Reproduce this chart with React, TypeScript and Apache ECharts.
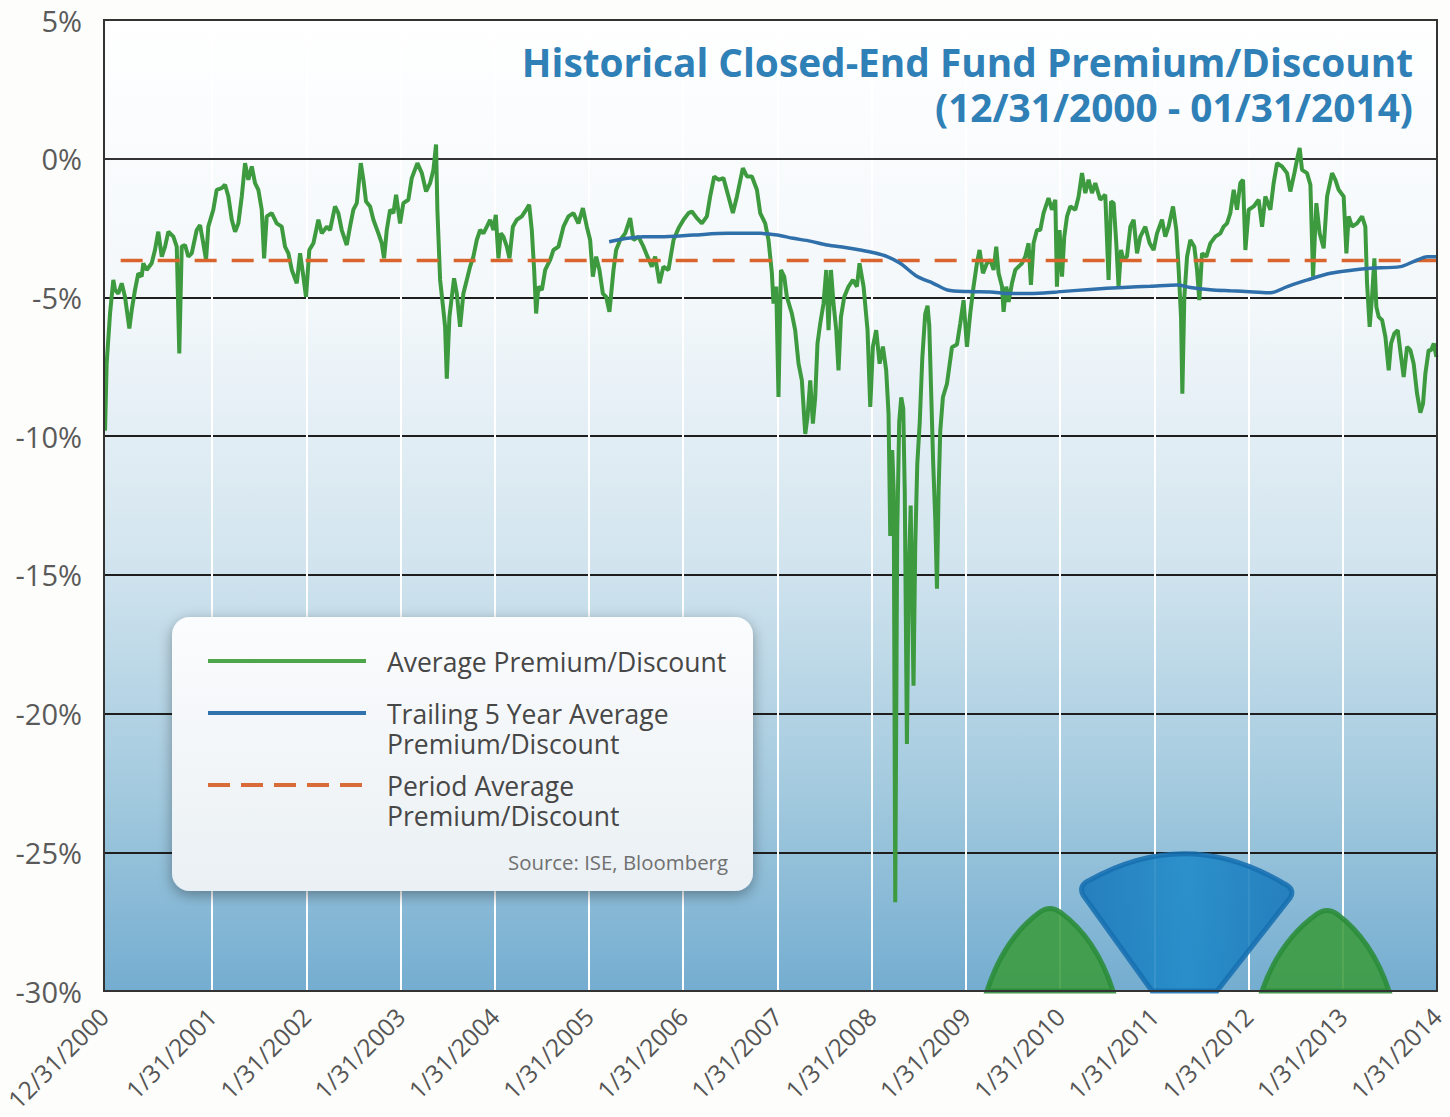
import React, { useEffect, useRef } from "react";
import * as echarts from "echarts";

// x unit: years from the start of the chart's date axis (first gap is wider, as in the source)
const X_TICKS = [0, 1.1465, 2.1465, 3.1465, 4.1465, 5.1465, 6.1465, 7.1465, 8.1465, 9.1465, 10.1465, 11.1465, 12.1465, 13.1465, 14.1465];
const X_LABELS = [
  "12/31/2000", "1/31/2001", "1/31/2002", "1/31/2003", "1/31/2004", "1/31/2005", "1/31/2006",
  "1/31/2007", "1/31/2008", "1/31/2009", "1/31/2010", "1/31/2011", "1/31/2012", "1/31/2013", "1/31/2014",
];
const Y_MIN = -30;
const Y_MAX = 5;
const Y_STEP = 5;

const AVG_PREMIUM_DISCOUNT: [number, number][] = [
  [0.011, -9.8], [0.028, -7.39], [0.064, -5.58], [0.099, -4.37], [0.117, -4.73], [0.152, -4.86], [0.188, -4.49], [0.223, -4.98],
  [0.269, -6.12], [0.294, -5.46], [0.329, -4.73], [0.364, -4.13], [0.4, -4.25], [0.417, -3.77], [0.453, -4.01], [0.506, -3.77],
  [0.541, -3.29], [0.576, -2.63], [0.613, -3.53], [0.648, -3.17], [0.683, -2.63], [0.736, -2.81], [0.772, -3.17], [0.799, -7.02],
  [0.825, -3.17], [0.86, -3.11], [0.895, -3.53], [0.931, -3.41], [0.984, -2.57], [1.019, -2.39], [1.054, -3.05], [1.083, -3.65],
  [1.107, -2.45], [1.16, -1.84], [1.196, -1.12], [1.249, -1.06], [1.285, -0.94], [1.32, -1.36], [1.356, -2.2], [1.391, -2.63],
  [1.426, -2.33], [1.462, -1.36], [1.497, -0.16], [1.532, -0.76], [1.568, -0.28], [1.603, -0.88], [1.638, -1.12], [1.674, -1.84],
  [1.699, -3.59], [1.727, -2.08], [1.78, -1.96], [1.833, -2.33], [1.886, -2.45], [1.921, -3.17], [1.957, -3.41], [1.993, -4.01],
  [2.046, -4.49], [2.081, -3.41], [2.116, -4.25], [2.144, -4.98], [2.179, -3.29], [2.222, -3.05], [2.275, -2.2], [2.311, -2.69],
  [2.364, -2.45], [2.399, -2.57], [2.452, -1.72], [2.487, -1.96], [2.523, -2.57], [2.576, -3.11], [2.611, -2.45], [2.646, -1.84],
  [2.683, -1.6], [2.725, -0.16], [2.753, -0.76], [2.781, -1.54], [2.824, -1.72], [2.859, -2.2], [2.912, -2.69], [2.948, -3.05],
  [2.972, -3.59], [3.001, -2.57], [3.036, -1.84], [3.071, -1.96], [3.1, -1.3], [3.142, -2.33], [3.177, -1.6], [3.23, -1.48],
  [3.266, -0.7], [3.326, -0.16], [3.373, -0.52], [3.418, -1.18], [3.461, -0.88], [3.496, -0.4], [3.524, 0.51], [3.538, -1.84],
  [3.567, -4.37], [3.602, -5.46], [3.62, -6.06], [3.638, -7.93], [3.666, -5.7], [3.691, -4.98], [3.715, -4.31], [3.744, -4.86],
  [3.779, -6.06], [3.814, -4.86], [3.85, -4.37], [3.885, -3.89], [3.92, -3.53], [3.956, -2.93], [3.992, -2.57], [4.027, -2.69],
  [4.063, -2.45], [4.098, -2.2], [4.133, -2.57], [4.158, -2.02], [4.186, -3.59], [4.211, -2.69], [4.239, -2.81], [4.275, -3.17],
  [4.303, -3.59], [4.339, -2.45], [4.381, -2.2], [4.434, -2.08], [4.469, -1.9], [4.512, -1.66], [4.54, -2.57], [4.565, -4.01],
  [4.586, -5.58], [4.61, -4.61], [4.647, -4.73], [4.682, -4.01], [4.735, -3.65], [4.77, -3.29], [4.823, -3.17], [4.876, -2.45],
  [4.929, -2.08], [4.982, -1.96], [5.035, -2.33], [5.082, -1.78], [5.124, -2.45], [5.159, -2.93], [5.188, -4.25], [5.223, -3.53],
  [5.258, -4.01], [5.294, -4.86], [5.329, -4.98], [5.364, -5.52], [5.407, -4.01], [5.435, -3.29], [5.478, -2.93], [5.531, -2.69],
  [5.584, -2.14], [5.619, -2.93], [5.672, -2.81], [5.725, -3.17], [5.768, -3.53], [5.814, -3.89], [5.849, -3.53], [5.895, -4.49],
  [5.937, -3.89], [5.99, -4.01], [6.044, -2.93], [6.097, -2.51], [6.15, -2.2], [6.203, -1.96], [6.239, -1.9], [6.292, -2.14],
  [6.345, -2.33], [6.398, -2.08], [6.433, -1.36], [6.476, -0.64], [6.521, -0.76], [6.574, -0.7], [6.627, -1.36], [6.674, -1.96],
  [6.717, -1.36], [6.78, -0.34], [6.823, -0.64], [6.876, -0.64], [6.929, -1.12], [6.964, -1.96], [7.017, -2.33], [7.052, -2.93],
  [7.088, -4.13], [7.105, -5.22], [7.134, -4.61], [7.158, -8.59], [7.184, -4.01], [7.219, -4.25], [7.247, -4.98], [7.3, -5.58],
  [7.335, -6.18], [7.371, -7.39], [7.406, -7.99], [7.442, -9.92], [7.466, -9.31], [7.495, -7.99], [7.523, -9.55], [7.548, -8.59],
  [7.572, -6.66], [7.601, -5.94], [7.636, -5.22], [7.665, -4.01], [7.689, -6.18], [7.715, -4.01], [7.742, -5.22], [7.771, -6.18],
  [7.795, -7.63], [7.821, -5.7], [7.856, -4.98], [7.901, -4.61], [7.948, -4.37], [7.99, -4.61], [8.018, -3.77], [8.061, -4.61],
  [8.103, -6.18], [8.132, -8.95], [8.16, -6.77], [8.195, -6.18], [8.231, -7.39], [8.266, -6.77], [8.301, -7.63], [8.326, -9.19],
  [8.344, -13.6], [8.365, -10.5], [8.381, -12.0], [8.397, -26.8], [8.418, -13.5], [8.439, -9.5], [8.461, -8.6], [8.482, -9.0],
  [8.498, -12.0], [8.521, -21.1], [8.54, -15.0], [8.561, -12.5], [8.591, -19.0], [8.609, -14.0], [8.631, -11.0], [8.657, -9.5],
  [8.684, -7.2], [8.715, -5.6], [8.74, -5.3], [8.758, -6.0], [8.779, -8.5], [8.8, -11.0], [8.822, -13.0], [8.84, -15.5],
  [8.857, -12.0], [8.875, -9.8], [8.903, -8.6], [8.946, -8.11], [8.999, -6.8], [9.052, -6.7], [9.087, -5.94], [9.122, -5.1],
  [9.158, -6.78], [9.193, -5.58], [9.228, -4.61], [9.264, -3.77], [9.292, -3.29], [9.328, -4.13], [9.37, -3.77], [9.406, -3.65],
  [9.441, -4.01], [9.469, -3.17], [9.494, -4.13], [9.53, -4.61], [9.547, -5.52], [9.575, -4.61], [9.6, -5.16], [9.636, -4.49],
  [9.671, -4.01], [9.706, -3.89], [9.742, -3.77], [9.777, -3.53], [9.812, -3.05], [9.837, -4.55], [9.865, -3.05], [9.901, -2.57],
  [9.936, -2.57], [9.971, -1.96], [10.024, -1.42], [10.06, -1.84], [10.096, -1.48], [10.113, -4.61], [10.141, -2.57], [10.167, -4.25],
  [10.191, -2.81], [10.22, -2.08], [10.255, -1.72], [10.308, -1.84], [10.343, -1.36], [10.379, -0.52], [10.414, -1.24], [10.449, -0.76],
  [10.485, -1.24], [10.52, -0.88], [10.573, -1.48], [10.626, -1.3], [10.661, -4.37], [10.687, -1.54], [10.715, -1.6], [10.743, -3.05],
  [10.767, -4.61], [10.793, -3.29], [10.82, -3.65], [10.856, -3.53], [10.892, -2.45], [10.927, -2.2], [10.963, -3.41], [10.998, -2.81],
  [11.051, -2.45], [11.097, -3.05], [11.139, -3.29], [11.175, -2.69], [11.228, -2.2], [11.263, -2.81], [11.298, -2.45], [11.345, -1.72],
  [11.38, -2.57], [11.405, -4.01], [11.43, -5.7], [11.444, -8.47], [11.465, -4.98], [11.494, -3.53], [11.529, -2.93], [11.571, -3.17],
  [11.6, -4.01], [11.624, -5.1], [11.653, -3.41], [11.699, -3.53], [11.741, -3.05], [11.794, -2.81], [11.847, -2.69], [11.882, -2.45],
  [11.918, -2.33], [11.953, -1.96], [11.989, -1.12], [12.024, -1.84], [12.059, -0.88], [12.088, -0.76], [12.113, -3.29], [12.148, -1.84],
  [12.201, -1.72], [12.254, -1.48], [12.29, -2.45], [12.325, -1.36], [12.378, -1.84], [12.413, -0.88], [12.449, -0.16], [12.502, -0.28],
  [12.555, -0.52], [12.59, -1.18], [12.633, -0.52], [12.668, 0.08], [12.689, 0.39], [12.714, -0.4], [12.767, -0.52], [12.803, -0.94],
  [12.831, -4.25], [12.866, -1.6], [12.901, -2.69], [12.944, -3.23], [12.98, -1.36], [13.033, -0.52], [13.068, -0.76], [13.103, -1.12],
  [13.156, -1.36], [13.185, -3.41], [13.209, -2.08], [13.245, -2.45], [13.298, -2.33], [13.351, -2.08], [13.386, -2.45], [13.404, -4.49],
  [13.432, -6.06], [13.457, -4.98], [13.482, -3.59], [13.503, -5.34], [13.528, -5.7], [13.564, -5.82], [13.599, -6.42], [13.634, -7.63],
  [13.659, -6.66], [13.694, -6.3], [13.73, -6.18], [13.758, -6.96], [13.793, -7.87], [13.829, -6.78], [13.864, -6.9], [13.899, -7.39],
  [13.935, -8.47], [13.97, -9.15], [13.998, -8.83], [14.023, -7.75], [14.058, -6.9], [14.083, -6.9], [14.112, -6.66], [14.14, -7.14],
];

const TRAILING_5Y_AVG: [number, number][] = [
  [5.361, -2.99], [5.552, -2.87], [5.722, -2.81], [5.902, -2.81], [6.253, -2.75], [6.614, -2.69], [6.964, -2.69], [7.144, -2.75],
  [7.314, -2.87], [7.495, -2.97], [7.675, -3.11], [7.866, -3.2], [8.025, -3.29], [8.185, -3.4], [8.312, -3.53], [8.45, -3.77],
  [8.631, -4.25], [8.8, -4.49], [8.949, -4.73], [9.161, -4.79], [9.406, -4.8], [9.618, -4.86], [9.83, -4.86], [10.117, -4.8],
  [10.467, -4.71], [10.817, -4.64], [11.104, -4.6], [11.391, -4.55], [11.529, -4.64], [11.741, -4.72], [11.953, -4.76], [12.197, -4.8],
  [12.378, -4.83], [12.558, -4.61], [12.771, -4.37], [13.015, -4.13], [13.259, -4.01], [13.439, -3.95], [13.758, -3.89], [13.896, -3.71],
  [14.045, -3.53], [14.1465, -3.53],
];

const PERIOD_AVG = -3.67;
const PERIOD_START = 0.177;

const TITLE_LINES = ["Historical Closed-End Fund Premium/Discount", "(12/31/2000 - 01/31/2014)"];
const LEGEND_ITEMS = ["Average Premium/Discount", "Trailing 5 Year Average\nPremium/Discount", "Period Average\nPremium/Discount"];
const SOURCE = "Source: ISE, Bloomberg";

const FONT = "'Open Sans', 'Noto Sans', sans-serif";

// logo shapes (decorative watermark)
echarts.graphic.registerShape(
  "petalLeft",
  echarts.graphic.extendPath("M987,991 Q1004,938 1040,912 Q1050,905 1060,912 Q1096,938 1113,991 Z", {})
);
echarts.graphic.registerShape(
  "petalRight",
  echarts.graphic.extendPath("M1262,991 Q1280,940 1317,914 Q1327,907 1337,914 Q1372,940 1389,991 Z", {})
);
echarts.graphic.registerShape(
  "fanBlue",
  echarts.graphic.extendPath("M1152,991 L1083,895 Q1078,885 1090,880 Q1187,826 1283,883 Q1296,889 1290,898 L1217,991 Z", {})
);

export default function App() {
  const ref = useRef<HTMLDivElement>(null);

  useEffect(() => {
    if (!ref.current) return;
    const chart = echarts.init(ref.current, null, { renderer: "svg" });
    const gridLeft = 104, gridTop = 20, gridW = 1333, gridH = 971;

    const legendText = (text: string, y: number) => ({
      type: "text",
      z: 21,
      x: 387,
      y,
      style: { text, font: `26.5px ${FONT}`, lineHeight: 30, fill: "#474747", verticalAlign: "top" },
    });

    const titleStyle = { fontFamily: FONT, fontSize: 38.8, lineHeight: 42, fontWeight: "bold", color: "#2f80b6" };

    const option: any = {
      animation: false,
      backgroundColor: "#fdfdfb",
      title: [
        { text: TITLE_LINES[0], right: 37, top: 41, padding: 0, textStyle: titleStyle },
        { text: TITLE_LINES[1], right: 37, top: 86, padding: 0, textStyle: titleStyle },
      ],
      grid: {
        left: gridLeft,
        top: gridTop,
        width: gridW,
        height: gridH,
        outerBoundsMode: "none",
        containLabel: false,
        show: true,
        borderWidth: 0,
        backgroundColor: new echarts.graphic.LinearGradient(0, 0, 0, 1, [
          { offset: 0, color: "#ffffff" },
          { offset: 0.3, color: "#f2f7fa" },
          { offset: 0.55, color: "#d3e5ef" },
          { offset: 0.8, color: "#a2c9de" },
          { offset: 1, color: "#74add0" },
        ]),
      },
      xAxis: {
        type: "value",
        min: X_TICKS[0],
        max: X_TICKS[X_TICKS.length - 1],
        axisLine: { show: true, lineStyle: { color: "#333", width: 2 } },
        axisTick: { show: false, customValues: X_TICKS },
        splitLine: { show: true, lineStyle: { color: "#ffffff", width: 2 } },
        axisLabel: {
          customValues: X_TICKS,
          rotate: 45,
          margin: 21,
          fontFamily: FONT,
          fontSize: 24.5,
          lineHeight: 25,
          color: "#555",
          formatter: (v: number) => {
            const i = X_TICKS.findIndex((t) => Math.abs(t - v) < 1e-6);
            return i >= 0 ? X_LABELS[i] : "";
          },
        },
      },
      yAxis: {
        type: "value",
        min: Y_MIN,
        max: Y_MAX,
        interval: Y_STEP,
        axisLine: { show: true, lineStyle: { color: "#333", width: 2 } },
        axisTick: { show: false },
        splitLine: { show: true, lineStyle: { color: "#1e1e1e", width: 2 } },
        axisLabel: {
          margin: 22,
          fontFamily: FONT,
          fontSize: 29,
          color: "#5a5a5a",
          formatter: (v: number) => `${v}%`,
        },
      },
      series: [
        {
          name: "Average Premium/Discount",
          type: "line",
          data: AVG_PREMIUM_DISCOUNT,
          showSymbol: false,
          symbol: "none",
          lineStyle: { color: "#3d9a3f", width: 4 },
          z: 3,
        },
        {
          name: "Period Average Premium/Discount",
          type: "line",
          data: [
            [PERIOD_START, PERIOD_AVG],
            [X_TICKS[X_TICKS.length - 1], PERIOD_AVG],
          ],
          showSymbol: false,
          symbol: "none",
          lineStyle: { color: "#d9642e", width: 3.5, type: [22, 15] },
          z: 4,
        },
        {
          name: "Trailing 5 Year Average Premium/Discount",
          type: "line",
          data: TRAILING_5Y_AVG,
          smooth: 0.3,
          showSymbol: false,
          symbol: "none",
          lineStyle: { color: "#2f6faa", width: 3.5 },
          z: 5,
        },
      ],
      graphic: [
        // logo watermark
        {
          type: "petalLeft",
          z: 1,
          style: { fill: "#3b9b3e", stroke: "#2a8c38", lineWidth: 5, opacity: 0.88 },
        },
        {
          type: "petalRight",
          z: 1,
          style: { fill: "#3b9b3e", stroke: "#2a8c38", lineWidth: 5, opacity: 0.88 },
        },
        {
          type: "fanBlue",
          z: 1,
          style: {
            fill: new echarts.graphic.LinearGradient(0, 0, 1, 0, [
              { offset: 0, color: "#1877b9" },
              { offset: 0.5, color: "#1e8ac8" },
              { offset: 1, color: "#1877b9" },
            ]),
            stroke: "#176fb0",
            lineWidth: 5,
            opacity: 0.88,
          },
        },
        // plot border
        {
          type: "rect",
          z: 6,
          silent: true,
          shape: { x: gridLeft, y: gridTop, width: gridW, height: gridH },
          style: { fill: "none", stroke: "#333", lineWidth: 2 },
        },
        // legend box
        {
          type: "group",
          z: 20,
          children: [
            {
              type: "rect",
              z: 20,
              shape: { x: 172, y: 617, width: 581, height: 274, r: 18 },
              style: {
                fill: new echarts.graphic.LinearGradient(0, 0, 0, 1, [
                  { offset: 0, color: "#fbfcfd" },
                  { offset: 1, color: "#eaf0f4" },
                ]),
                shadowBlur: 14,
                shadowOffsetY: 4,
                shadowColor: "rgba(0,0,0,0.35)",
              },
            },
            { type: "line", z: 21, shape: { x1: 208, y1: 661, x2: 366, y2: 661 }, style: { stroke: "#4ea64b", lineWidth: 4 } },
            { type: "line", z: 21, shape: { x1: 208, y1: 713, x2: 366, y2: 713 }, style: { stroke: "#3273ad", lineWidth: 4 } },
            {
              type: "line",
              z: 21,
              shape: { x1: 208, y1: 785, x2: 366, y2: 785 },
              style: { stroke: "#d96b38", lineWidth: 4, lineDash: [22, 11] },
            },
            legendText(LEGEND_ITEMS[0], 647),
            legendText(LEGEND_ITEMS[1], 699),
            legendText(LEGEND_ITEMS[2], 771),
            {
              type: "text", z: 21, x: 728, y: 862,
              style: { text: SOURCE, font: `20.4px ${FONT}`, fill: "#707070", align: "right", verticalAlign: "middle" },
            },
          ],
        },
      ],
    };

    chart.setOption(option);
    return () => chart.dispose();
  }, []);

  return (
    <div
      ref={ref}
      style={{ position: "fixed", left: 0, top: 0, width: 1450, height: 1117, background: "#fdfdfb" }}
    />
  );
}
